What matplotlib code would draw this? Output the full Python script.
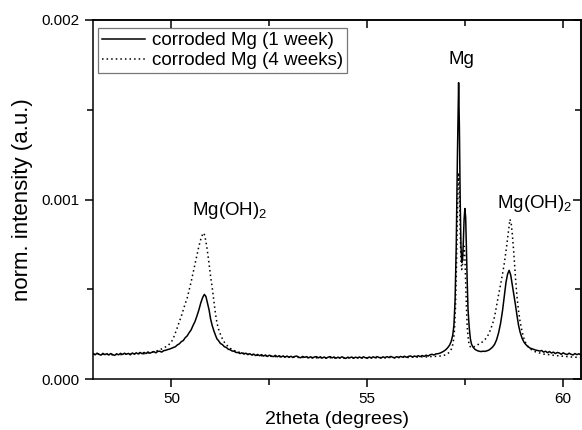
import matplotlib
matplotlib.use("Agg")
import matplotlib.pyplot as plt
from matplotlib.ticker import MultipleLocator, FormatStrFormatter

plt.rcParams['font.family'] = ['Liberation Sans', 'DejaVu Sans']
plt.rcParams['mathtext.fontset'] = 'custom'
plt.rcParams['mathtext.rm'] = 'Liberation Sans'
plt.rcParams['mathtext.it'] = 'Liberation Sans:italic'

# intensities are stored in units of 1e-4 (normalised)
SCALE = 1e-4

# corroded Mg, 1 week
week1_2theta = [
    48.00, 48.05, 48.10, 48.15, 48.20, 48.25, 48.30, 48.35, 48.40, 48.45,
    48.50, 48.55, 48.60, 48.65, 48.70, 48.75, 48.80, 48.85, 48.90, 48.95,
    49.00, 49.05, 49.10, 49.15, 49.20, 49.25, 49.30, 49.35, 49.40, 49.45,
    49.50, 49.55, 49.60, 49.65, 49.70, 49.75, 49.80, 49.85, 49.90, 49.95,
    50.00, 50.05, 50.10, 50.15, 50.20, 50.25, 50.30, 50.35, 50.40, 50.45,
    50.50, 50.55, 50.60, 50.65, 50.70, 50.75, 50.80, 50.84, 50.88, 50.92,
    50.96, 51.00, 51.04, 51.08, 51.12, 51.16, 51.20, 51.25, 51.30, 51.35,
    51.40, 51.45, 51.50, 51.55, 51.60, 51.65, 51.70, 51.75,
    51.80, 51.85, 51.90, 51.95, 52.00, 52.05, 52.10, 52.15, 52.20, 52.25,
    52.30, 52.35, 52.40, 52.45, 52.50, 52.55, 52.60, 52.65, 52.70, 52.75,
    52.80, 52.85, 52.90, 52.95, 53.00, 53.05, 53.10, 53.15, 53.20, 53.25,
    53.30, 53.35, 53.40, 53.45, 53.50, 53.55, 53.60, 53.65, 53.70, 53.75,
    53.80, 53.85, 53.90, 53.95, 54.00, 54.05, 54.10, 54.15, 54.20, 54.25,
    54.30, 54.35, 54.40, 54.45, 54.50, 54.55, 54.60, 54.65, 54.70, 54.75,
    54.80, 54.85, 54.90, 54.95, 55.00, 55.05, 55.10, 55.15, 55.20, 55.25,
    55.30, 55.35, 55.40, 55.45, 55.50, 55.55, 55.60, 55.65, 55.70, 55.75,
    55.80, 55.85, 55.90, 55.95, 56.00, 56.05, 56.10, 56.15, 56.20, 56.25,
    56.30, 56.35, 56.40, 56.45, 56.50, 56.55, 56.60, 56.65, 56.70, 56.75,
    56.80, 56.85, 56.90, 56.95, 57.00, 57.05, 57.10, 57.14, 57.18, 57.21,
    57.24, 57.27, 57.30, 57.33, 57.35, 57.37, 57.39, 57.41, 57.43, 57.45,
    57.47, 57.49, 57.51, 57.53, 57.55, 57.57, 57.60, 57.63, 57.66, 57.70,
    57.75, 57.80, 57.85, 57.90,
    57.95, 58.00, 58.05, 58.10, 58.15, 58.20, 58.25, 58.30, 58.35, 58.40,
    58.45, 58.50, 58.54, 58.58, 58.62, 58.66, 58.70, 58.74, 58.78, 58.82,
    58.86, 58.90, 58.95, 59.00, 59.05, 59.10, 59.15, 59.20, 59.25, 59.30,
    59.35,
    59.40, 59.45, 59.50, 59.55, 59.60, 59.65, 59.70, 59.75, 59.80, 59.85,
    59.90, 59.95, 60.00, 60.05, 60.10, 60.15, 60.20, 60.25, 60.30, 60.35,
    60.40, 60.45,
]
week1_int = [
    1.43, 1.36, 1.45, 1.39, 1.34, 1.44, 1.37, 1.42, 1.35, 1.43,
    1.37, 1.33, 1.41, 1.36, 1.44, 1.38, 1.45, 1.39, 1.44, 1.36,
    1.46, 1.40, 1.47, 1.41, 1.49, 1.42, 1.49, 1.43, 1.52, 1.45,
    1.50, 1.54, 1.47, 1.55, 1.56, 1.51, 1.59, 1.61, 1.65, 1.68,
    1.72, 1.77, 1.81, 1.91, 1.97, 2.09, 2.15, 2.31, 2.41, 2.59,
    2.74, 2.99, 3.21, 3.52, 3.86, 4.26, 4.57, 4.72, 4.60, 4.24,
    3.86, 3.34, 2.99, 2.71, 2.47, 2.25, 2.15, 1.99, 1.93, 1.81,
    1.77, 1.67, 1.64, 1.57, 1.56, 1.49, 1.49, 1.43,
    1.47, 1.40, 1.45, 1.37, 1.42, 1.35, 1.40, 1.32, 1.38, 1.31,
    1.37, 1.29, 1.35, 1.27, 1.34, 1.29, 1.26, 1.33, 1.25, 1.31,
    1.24, 1.30, 1.23, 1.29, 1.22, 1.28, 1.21, 1.27, 1.29, 1.22,
    1.20, 1.27, 1.22, 1.26, 1.19, 1.25, 1.18, 1.24, 1.26, 1.19,
    1.25, 1.18, 1.24, 1.17, 1.23, 1.26, 1.19, 1.24, 1.17, 1.23,
    1.18, 1.25, 1.20, 1.16, 1.23, 1.19, 1.24, 1.17, 1.23, 1.19,
    1.24, 1.18, 1.25, 1.20, 1.17, 1.24, 1.19, 1.25, 1.20, 1.26,
    1.21, 1.18, 1.25, 1.20, 1.26, 1.21, 1.27, 1.22, 1.19, 1.26,
    1.21, 1.27, 1.23, 1.28, 1.22, 1.27, 1.30, 1.24, 1.29, 1.26,
    1.31, 1.26, 1.32, 1.27, 1.34, 1.29, 1.36, 1.39, 1.35, 1.41,
    1.42, 1.45, 1.50, 1.56, 1.64, 1.75, 1.90, 2.10, 2.45, 3.00,
    4.40, 7.50, 12.5, 16.5, 14.0, 10.0, 7.40, 6.50, 6.60, 7.60,
    8.90, 9.50, 9.00, 7.20, 5.40, 3.90, 2.90, 2.25, 1.95, 1.78,
    1.66, 1.60, 1.56, 1.54,
    1.56, 1.55, 1.58, 1.62, 1.70, 1.80, 1.95, 2.20, 2.58, 3.10,
    3.80, 4.70, 5.40, 5.85, 6.06, 5.80, 5.25, 4.70, 4.15, 3.55,
    3.00, 2.62, 2.28, 2.06, 1.92, 1.82, 1.74, 1.70, 1.66, 1.62,
    1.60,
    1.57, 1.60, 1.51, 1.56, 1.48, 1.54, 1.46, 1.51, 1.43, 1.49,
    1.46, 1.39, 1.47, 1.41, 1.37, 1.45, 1.39, 1.35, 1.43, 1.37,
    1.42, 1.35,
]

# corroded Mg, 4 weeks
week4_2theta = [
    48.0, 48.1, 48.2, 48.3, 48.4, 48.5, 48.6, 48.7, 48.8, 48.9,
    49.0, 49.1, 49.2, 49.3, 49.4, 49.5, 49.6, 49.7, 49.8, 49.9,
    50.00, 50.05, 50.10, 50.15, 50.20, 50.25, 50.30, 50.35, 50.40, 50.45,
    50.50, 50.55, 50.60, 50.65, 50.70, 50.75, 50.80, 50.82, 50.85, 50.90,
    50.95, 51.00, 51.04, 51.08, 51.12, 51.16, 51.20, 51.25, 51.30, 51.35,
    51.40, 51.45, 51.50, 51.60, 51.70, 51.80,
    51.9, 52.0, 52.1, 52.2, 52.3, 52.4, 52.5, 52.6, 52.7, 52.8,
    52.9, 53.0, 53.1, 53.2, 53.3, 53.4, 53.5, 53.6, 53.7, 53.8,
    53.9, 54.0, 54.1, 54.2, 54.3, 54.4, 54.5, 54.6, 54.7, 54.8,
    54.9, 55.0, 55.1, 55.2, 55.3, 55.4, 55.5, 55.6, 55.7, 55.8,
    55.9, 56.0, 56.1, 56.2, 56.3, 56.4, 56.5, 56.6, 56.7, 56.8,
    56.90, 57.00, 57.05, 57.10, 57.15, 57.19, 57.22, 57.25, 57.28, 57.30,
    57.32, 57.33, 57.35, 57.37, 57.39, 57.41, 57.43, 57.45, 57.47, 57.49,
    57.51, 57.53, 57.55, 57.58, 57.61, 57.65, 57.70, 57.75, 57.80, 57.85,
    57.90, 57.95, 58.00, 58.05, 58.10, 58.15, 58.20, 58.25, 58.30, 58.35,
    58.40, 58.45, 58.50, 58.55, 58.60, 58.64, 58.67, 58.70, 58.74, 58.78,
    58.82, 58.86, 58.90, 58.95, 59.00, 59.05, 59.10, 59.20, 59.30, 59.40,
    59.50, 59.60, 59.70, 59.80, 59.90, 60.00, 60.10, 60.20, 60.30, 60.40,
    60.45,
]
week4_int = [
    1.40, 1.38, 1.41, 1.37, 1.40, 1.36, 1.39, 1.37, 1.41, 1.38,
    1.42, 1.40, 1.44, 1.42, 1.46, 1.50, 1.56, 1.63, 1.75, 1.85,
    2.08, 2.30, 2.58, 2.88, 3.20, 3.50, 3.85, 4.20, 4.50, 4.95,
    5.40, 5.90, 6.40, 6.90, 7.40, 7.80, 8.10, 8.14, 8.00, 7.40,
    6.60, 5.70, 5.10, 4.40, 3.70, 3.15, 2.80, 2.50, 2.25, 2.06,
    1.92, 1.82, 1.72, 1.60, 1.52, 1.46,
    1.42, 1.38, 1.36, 1.33, 1.31, 1.30, 1.28, 1.27, 1.26, 1.25,
    1.24, 1.23, 1.24, 1.22, 1.21, 1.22, 1.20, 1.21, 1.19, 1.20,
    1.18, 1.19, 1.20, 1.18, 1.19, 1.17, 1.19, 1.18, 1.20, 1.18,
    1.19, 1.20, 1.18, 1.19, 1.21, 1.19, 1.20, 1.22, 1.20, 1.21,
    1.23, 1.21, 1.22, 1.24, 1.23, 1.25, 1.24, 1.26, 1.27, 1.28,
    1.30, 1.36, 1.42, 1.52, 1.70, 2.00, 2.60, 4.00, 6.80, 9.20,
    11.0, 11.5, 10.4, 8.20, 6.60, 6.10, 6.40, 7.10, 7.40, 6.80,
    5.40, 4.00, 2.90, 2.15, 1.85, 1.76, 1.78, 1.84, 1.90, 1.96,
    2.02, 2.10, 2.20, 2.34, 2.52, 2.80, 3.10, 3.50, 4.10, 4.70,
    5.25, 5.85, 6.50, 7.30, 8.20, 8.90, 8.70, 8.10, 7.00, 5.70,
    4.60, 3.80, 3.20, 2.65, 2.25, 1.98, 1.82, 1.62, 1.52, 1.46,
    1.40, 1.38, 1.35, 1.32, 1.30, 1.28, 1.26, 1.24, 1.23, 1.22,
    1.21,
]

# peak labels: text, 2theta, intensity (1e-4)
peak_labels = ['Mg(OH)$_2$', 'Mg', 'Mg(OH)$_2$']
label_2theta = [51.48, 57.40, 59.28]
label_int = [9.14, 17.54, 9.51]

fig = plt.figure(figsize=(5.82, 4.30), dpi=100)
ax = fig.add_axes([0.160, 0.118, 0.838, 0.836])

ax.plot(week1_2theta, [v * SCALE for v in week1_int], color='black',
        linewidth=1.1, label='corroded Mg (1 week)')
ax.plot(week4_2theta, [v * SCALE for v in week4_int], color='black',
        linewidth=1.1, linestyle=(0, (1, 2)), label='corroded Mg (4 weeks)')

for txt, x, y in zip(peak_labels, label_2theta, label_int):
    ax.text(x, y * SCALE, txt, ha='center', va='baseline', fontsize=13.5)

ax.set_xlim(48, 60.45)
ax.set_ylim(0, 0.002)
ax.xaxis.set_major_locator(MultipleLocator(5))
ax.xaxis.set_minor_locator(MultipleLocator(2.5))
ax.yaxis.set_major_locator(MultipleLocator(0.001))
ax.yaxis.set_minor_locator(MultipleLocator(0.0005))
ax.yaxis.set_major_formatter(FormatStrFormatter('%.3f'))
ax.tick_params(which='major', direction='out', length=6, width=1.1, labelsize=11)
ax.tick_params(which='minor', direction='out', length=4, width=1.1)

# mirrored axes on top and right with inward ticks
top = ax.secondary_xaxis('top')
top.xaxis.set_major_locator(MultipleLocator(5))
top.xaxis.set_minor_locator(MultipleLocator(2.5))
top.tick_params(which='major', direction='in', length=6, width=1.1, labeltop=False)
top.tick_params(which='minor', direction='in', length=4, width=1.1)
right = ax.secondary_yaxis('right')
right.yaxis.set_major_locator(MultipleLocator(0.001))
right.yaxis.set_minor_locator(MultipleLocator(0.0005))
right.tick_params(which='major', direction='in', length=6, width=1.1, labelright=False)
right.tick_params(which='minor', direction='in', length=4, width=1.1)
for a in (ax, top, right):
    for sp in a.spines.values():
        sp.set_linewidth(1.1)

ax.set_xlabel('2theta (degrees)', fontsize=14, labelpad=3)
ax.set_ylabel('norm. intensity (a.u.)', fontsize=16, labelpad=6)

leg = ax.legend(loc='upper left', bbox_to_anchor=(0.010, 0.976), borderaxespad=0,
                fontsize=13.5, frameon=True, fancybox=False, handlelength=2.3,
                handletextpad=0.4, labelspacing=0.15, borderpad=0.2)
leg.get_frame().set_edgecolor('#555555')
leg.get_frame().set_linewidth(0.9)

fig.savefig('out.png', dpi=100)
